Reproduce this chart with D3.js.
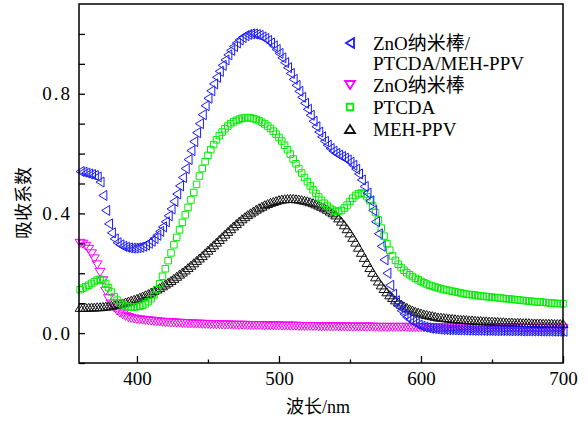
<!DOCTYPE html>
<html>
<head>
<meta charset="utf-8">
<script src="https://cdn.jsdelivr.net/npm/d3@7/dist/d3.min.js"></script>
<style>
  html, body { margin: 0; padding: 0; background: #fff; }
  svg { display: block; }
  text { font-family: 'Liberation Serif', 'Noto Sans CJK SC', serif; fill: #000; }
</style>
</head>
<body>
<svg id="chart" width="588" height="423"></svg>
<script>
// wavelengths 360..700 nm, step 2 nm
const wavelength = d3.range(360, 701, 2);

const seriesNames = ["ZnO纳米棒/PTCDA/MEH-PPV", "ZnO纳米棒", "PTCDA", "MEH-PPV"];

const hybrid = [
  0.54,0.538,0.535,0.532,0.53,0.527,0.522,0.505,0.46,0.41,
  0.365,0.335,0.315,0.302,0.295,0.29,0.287,0.285,0.284,0.284,
  0.285,0.287,0.29,0.294,0.3,0.307,0.316,0.327,0.34,0.355,
  0.372,0.392,0.415,0.44,0.465,0.492,0.52,0.55,0.58,0.61,
  0.64,0.67,0.70,0.73,0.76,0.785,0.81,0.833,0.855,0.875,
  0.895,0.913,0.93,0.945,0.958,0.97,0.98,0.988,0.994,0.998,
  1.0,1.0,0.998,0.995,0.99,0.985,0.978,0.97,0.96,0.948,
  0.935,0.92,0.904,0.887,0.868,0.848,0.828,0.808,0.788,0.768,
  0.748,0.728,0.708,0.69,0.672,0.656,0.641,0.628,0.617,0.608,
  0.601,0.595,0.59,0.585,0.579,0.571,0.561,0.548,0.532,0.512,
  0.49,0.468,0.442,0.41,0.372,0.332,0.29,0.245,0.2,0.16,
  0.13,0.108,0.09,0.075,0.063,0.053,0.045,0.038,0.032,0.027,
  0.023,0.02,0.018,0.016,0.015,0.014,0.013,0.012,0.012,0.011,
  0.011,0.011,0.0105,0.01,0.01,0.01,0.0095,0.0095,0.009,0.009,
  0.009,0.009,0.0085,0.0085,0.0085,0.008,0.008,0.008,0.008,0.008,
  0.008,0.0075,0.0075,0.0075,0.0075,0.007,0.007,0.007,0.007,0.007,
  0.007,0.0068,0.0066,0.0065,0.0064,0.0063,0.0062,0.0061,0.006,0.006,
  0.006
];

const znoRods = [
  0.30,0.297,0.29,0.28,0.265,0.248,0.228,0.203,0.175,0.14,
  0.115,0.097,0.084,0.074,0.067,0.061,0.056,0.052,0.049,0.047,
  0.045,0.044,0.043,0.042,0.041,0.04,0.039,0.038,0.037,0.036,
  0.035,0.035,0.034,0.034,0.033,0.033,0.032,0.032,0.031,0.031,
  0.03,0.03,0.03,0.029,0.029,0.029,0.028,0.028,0.028,0.028,
  0.027,0.027,0.027,0.027,0.026,0.026,0.026,0.026,0.026,0.025,
  0.025,0.025,0.025,0.025,0.025,0.024,0.024,0.024,0.024,0.024,
  0.024,0.023,0.023,0.023,0.023,0.023,0.023,0.022,0.022,0.022,
  0.022,0.022,0.022,0.022,0.021,0.021,0.021,0.021,0.021,0.021,
  0.021,0.021,0.02,0.02,0.02,0.02,0.02,0.02,0.02,0.02,
  0.02,0.02,0.02,0.02,0.019,0.019,0.019,0.019,0.019,0.019,
  0.019,0.019,0.019,0.019,0.019,0.019,0.018,0.018,0.018,0.018,
  0.018,0.018,0.018,0.018,0.018,0.018,0.018,0.018,0.018,0.018,
  0.018,0.018,0.018,0.018,0.017,0.017,0.017,0.017,0.017,0.017,
  0.017,0.017,0.017,0.017,0.017,0.017,0.017,0.017,0.017,0.017,
  0.017,0.017,0.017,0.017,0.017,0.016,0.016,0.016,0.016,0.016,
  0.016,0.016,0.016,0.016,0.016,0.016,0.016,0.016,0.016,0.016,
  0.016
];

const ptcda = [
  0.145,0.15,0.155,0.16,0.166,0.172,0.177,0.18,0.176,0.166,
  0.152,0.137,0.122,0.11,0.101,0.095,0.091,0.088,0.087,0.087,
  0.088,0.09,0.093,0.098,0.105,0.115,0.128,0.145,0.165,0.19,
  0.215,0.242,0.268,0.295,0.32,0.345,0.37,0.395,0.42,0.445,
  0.47,0.497,0.525,0.55,0.573,0.594,0.613,0.63,0.646,0.66,
  0.672,0.683,0.692,0.7,0.706,0.711,0.715,0.718,0.72,0.72,
  0.719,0.717,0.714,0.71,0.705,0.699,0.692,0.684,0.675,0.665,
  0.654,0.642,0.628,0.613,0.598,0.582,0.566,0.55,0.535,0.52,
  0.506,0.492,0.479,0.467,0.455,0.444,0.434,0.425,0.417,0.411,
  0.407,0.407,0.41,0.418,0.428,0.44,0.451,0.46,0.466,0.468,
  0.465,0.456,0.443,0.425,0.403,0.378,0.351,0.324,0.299,0.277,
  0.258,0.243,0.23,0.219,0.21,0.202,0.195,0.189,0.183,0.178,
  0.173,0.168,0.164,0.16,0.157,0.154,0.151,0.148,0.146,0.144,
  0.142,0.14,0.138,0.136,0.134,0.132,0.13,0.129,0.128,0.127,
  0.125,0.124,0.123,0.122,0.121,0.12,0.119,0.118,0.117,0.116,
  0.115,0.114,0.113,0.112,0.111,0.11,0.109,0.108,0.107,0.106,
  0.105,0.104,0.104,0.103,0.102,0.101,0.1,0.1,0.099,0.098,
  0.098
];

const mehppv = [
  0.086,0.086,0.086,0.086,0.087,0.087,0.088,0.088,0.089,0.09,
  0.091,0.093,0.095,0.097,0.099,0.101,0.104,0.107,0.11,0.113,
  0.116,0.12,0.124,0.128,0.132,0.137,0.142,0.147,0.152,0.158,
  0.164,0.17,0.176,0.183,0.19,0.197,0.204,0.211,0.219,0.227,
  0.235,0.243,0.251,0.259,0.268,0.277,0.286,0.295,0.304,0.313,
  0.322,0.331,0.34,0.349,0.358,0.366,0.374,0.382,0.389,0.396,
  0.402,0.408,0.414,0.419,0.424,0.429,0.433,0.437,0.44,0.443,
  0.446,0.448,0.449,0.45,0.45,0.45,0.449,0.448,0.446,0.444,
  0.442,0.439,0.436,0.432,0.428,0.424,0.419,0.414,0.408,0.402,
  0.395,0.385,0.374,0.362,0.349,0.335,0.32,0.304,0.287,0.27,
  0.253,0.236,0.219,0.203,0.188,0.174,0.161,0.149,0.138,0.128,
  0.119,0.111,0.104,0.097,0.091,0.086,0.081,0.077,0.073,0.07,
  0.067,0.064,0.062,0.06,0.058,0.056,0.054,0.053,0.052,0.051,
  0.05,0.049,0.048,0.047,0.046,0.046,0.045,0.044,0.044,0.043,
  0.042,0.042,0.041,0.041,0.04,0.04,0.039,0.039,0.038,0.038,
  0.037,0.037,0.037,0.036,0.036,0.036,0.035,0.035,0.035,0.034,
  0.034,0.034,0.034,0.033,0.033,0.033,0.033,0.032,0.032,0.032,
  0.032
];

const xMajorTicks = [400, 500, 600, 700];
const xMinorTicks = [450, 550, 650];
const yMajorTicks = [0.0, 0.4, 0.8];
const yMinorTicks = [-0.1, 0.1, 0.2, 0.3, 0.5, 0.6, 0.7, 0.9, 1.0];

const xLabel = "波长/nm";
const yLabel = "吸收系数";

// ---------- drawing ----------
const svg = d3.select("#chart");
const margin = { left: 79, right: 25, top: 4, bottom: 60 };
const W = 588, H = 423;

const x = d3.scaleLinear().domain([359.2, 700]).range([margin.left, W - margin.right]);
const y = d3.scaleLinear().domain([-0.1, 1.1]).range([H - margin.bottom, margin.top]);

function triPath(dir, h, w) {
  const a = h / 2, b = w / 2;
  if (dir === "left") return `M${-a},0L${a},${-b}L${a},${b}Z`;
  if (dir === "down") return `M0,${a}L${-b},${-a}L${b},${-a}Z`;
  return `M0,${-a}L${-b},${a}L${b},${a}Z`;
}
function sqPath(s) { const a = s / 2; return `M${-a},${-a}H${a}V${a}H${-a}Z`; }

const series = [
  { name: seriesNames[1], values: znoRods, color: "#ff00ff", path: triPath("down", 8, 10) },
  { name: seriesNames[3], values: mehppv, color: "#111111", path: triPath("up", 8, 10) },
  { name: seriesNames[2], values: ptcda, color: "#00ee00", path: sqPath(6.5) },
  { name: seriesNames[0], values: hybrid, color: "#1a1aff", path: triPath("left", 8, 10) }
];

const plot = svg.append("g");
series.forEach(s => {
  plot.append("g").selectAll("path")
    .data(wavelength.map((w, i) => [w, s.values[i]]))
    .join("path")
    .attr("d", s.path)
    .attr("transform", d => `translate(${x(d[0])},${y(d[1])})`)
    .attr("fill", "none")
    .attr("stroke", s.color)
    .attr("stroke-width", 1.0);
});

svg.append("rect")
  .attr("x", margin.left).attr("y", margin.top)
  .attr("width", W - margin.left - margin.right)
  .attr("height", H - margin.top - margin.bottom)
  .attr("fill", "none").attr("stroke", "#000").attr("stroke-width", 1.5);

const fontSize = 19;
const gx = svg.append("g").attr("transform", `translate(0,${H - margin.bottom})`)
  .call(d3.axisBottom(x).tickValues(xMajorTicks).tickSize(-7).tickPadding(9).tickFormat(d3.format("d")));
const gxm = svg.append("g").attr("transform", `translate(0,${H - margin.bottom})`)
  .call(d3.axisBottom(x).tickValues(xMinorTicks).tickSize(-3.5).tickFormat(""));
const gy = svg.append("g").attr("transform", `translate(${margin.left},0)`)
  .call(d3.axisLeft(y).tickValues(yMajorTicks).tickSize(-6).tickPadding(7).tickFormat(d3.format(".1f")));
const gym = svg.append("g").attr("transform", `translate(${margin.left},0)`)
  .call(d3.axisLeft(y).tickValues(yMinorTicks).tickSize(-6).tickFormat(""));

[gx, gxm, gy, gym].forEach(g => {
  g.attr("font-family", null);
  g.select(".domain").remove();
  g.selectAll(".tick line").attr("stroke", "#000").attr("stroke-width", 1.3);
  g.selectAll("text").attr("font-size", fontSize).attr("fill", "#000")
    .style("font-family", "'Liberation Serif', serif");
});
gy.selectAll("text").attr("letter-spacing", "2px");

svg.append("text")
  .attr("x", 318).attr("y", 413)
  .attr("text-anchor", "middle").attr("font-size", 18)
  .text(xLabel);
svg.append("text")
  .attr("transform", "translate(30,203) rotate(-90)")
  .attr("text-anchor", "middle").attr("font-size", 18)
  .text(yLabel);

const legendRows = [
  { s: series[3], lines: ["ZnO纳米棒/", "PTCDA/MEH-PPV"], y: 43 },
  { s: series[0], lines: ["ZnO纳米棒"], y: 85 },
  { s: series[2], lines: ["PTCDA"], y: 107 },
  { s: series[1], lines: ["MEH-PPV"], y: 129 }
];
const leg = svg.append("g");
legendRows.forEach(r => {
  leg.append("path").attr("d", r.s.path)
    .attr("transform", `translate(350,${r.y})`)
    .attr("fill", "none").attr("stroke", r.s.color).attr("stroke-width", 1.8);
  r.lines.forEach((ln, k) => {
    leg.append("text").attr("x", 373).attr("y", r.y + 7 + k * 20)
      .attr("font-size", fontSize).style("font-family", "'Liberation Serif', 'Noto Sans CJK SC', serif").text(ln);
  });
});
</script>
</body>
</html>
